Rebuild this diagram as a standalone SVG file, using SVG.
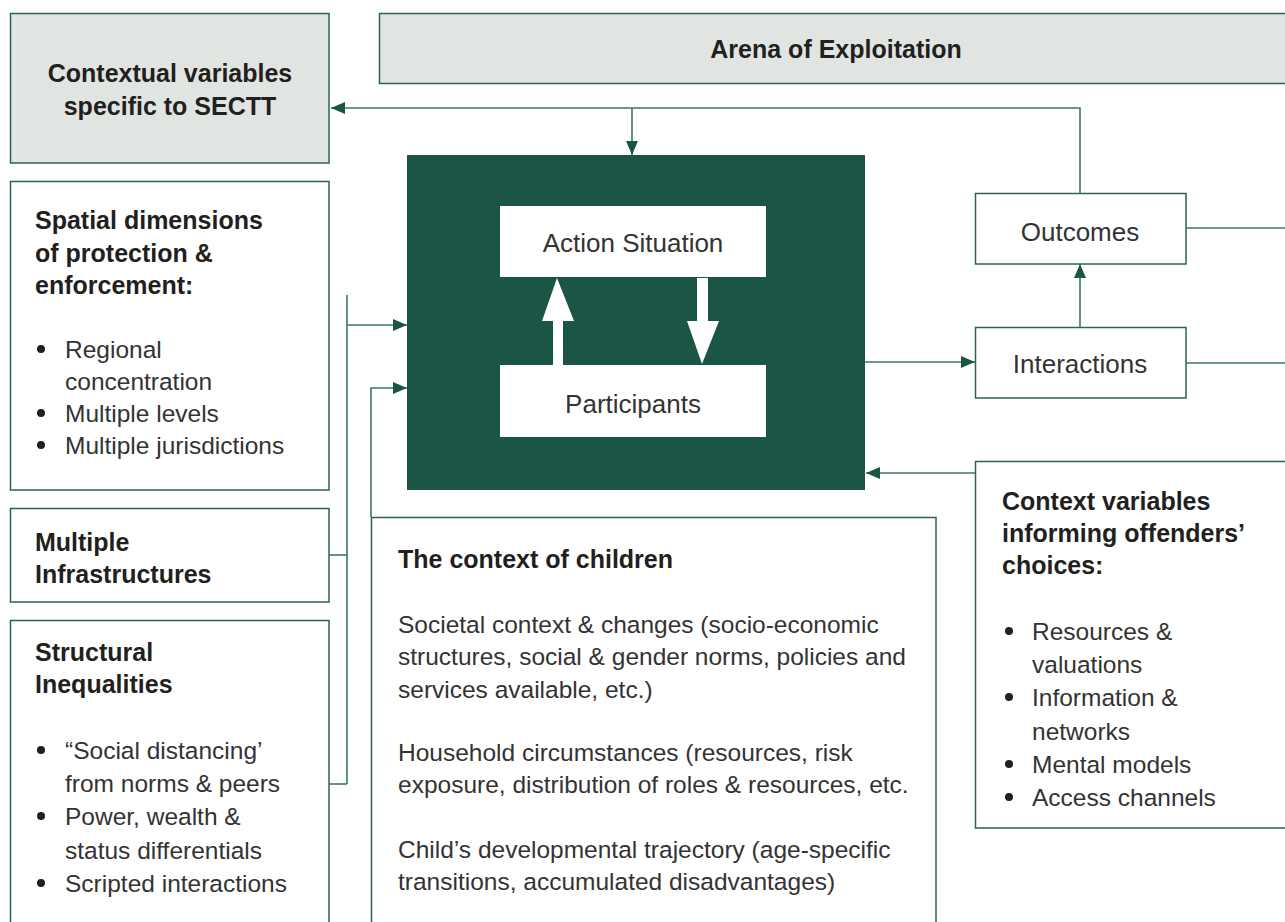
<svg xmlns="http://www.w3.org/2000/svg" width="1285" height="922" viewBox="0 0 1285 922">
<defs>
<marker id="ah" markerWidth="14" markerHeight="12" refX="14" refY="6" orient="auto" markerUnits="userSpaceOnUse">
<path d="M0,0 L14,6 L0,12 Z" fill="#1a5545"/>
</marker>
<style>
.box{fill:#ffffff;stroke:#2a6452;stroke-width:1.5}
.grey{fill:#e1e5e2;stroke:#2a6452;stroke-width:1.5}
.conn{fill:none;stroke:#3d7766;stroke-width:1.6}
.h{font-family:"Liberation Sans",Arial,sans-serif;font-weight:bold;font-size:25px;fill:#231f20}
.t{font-family:"Liberation Sans",Arial,sans-serif;font-size:24.5px;fill:#333333}
.l{font-family:"Liberation Sans",Arial,sans-serif;font-size:26px;fill:#333333;text-anchor:middle}
.c{text-anchor:middle}
</style>
</defs>
<rect width="1285" height="922" fill="#ffffff"/>

<g id="contextual-variables">
<rect class="grey" x="10.5" y="13.5" width="318.5" height="149.5"/>
<text class="h c" x="170" y="82">Contextual variables</text>
<text class="h c" x="170" y="115">specific to SECTT</text>
</g>

<g id="arena">
<rect class="grey" x="379.5" y="13.5" width="910" height="70"/>
<text class="h c" x="836" y="58">Arena of Exploitation</text>
</g>

<g id="spatial">
<rect class="box" x="10.5" y="181.5" width="318.5" height="308.5"/>
<text class="h" x="35" y="229">Spatial dimensions</text>
<text class="h" x="35" y="262">of protection &amp;</text>
<text class="h" x="35" y="294">enforcement:</text>
<circle cx="41" cy="349" r="4" fill="#231f20"/>
<text class="t" x="65" y="358">Regional</text>
<text class="t" x="65" y="390">concentration</text>
<circle cx="41" cy="413" r="4" fill="#231f20"/>
<text class="t" x="65" y="422">Multiple levels</text>
<circle cx="41" cy="445" r="4" fill="#231f20"/>
<text class="t" x="65" y="454">Multiple jurisdictions</text>
</g>

<g id="infrastructures">
<rect class="box" x="10.5" y="508.5" width="318.5" height="93.5"/>
<text class="h" x="35" y="551">Multiple</text>
<text class="h" x="35" y="583">Infrastructures</text>
</g>

<g id="structural">
<rect class="box" x="10.5" y="620.5" width="318.5" height="320"/>
<text class="h" x="35" y="661">Structural</text>
<text class="h" x="35" y="693">Inequalities</text>
<circle cx="41" cy="750" r="4" fill="#231f20"/>
<text class="t" x="65" y="759">“Social distancing’</text>
<text class="t" x="65" y="792">from norms &amp; peers</text>
<circle cx="41" cy="816" r="4" fill="#231f20"/>
<text class="t" x="65" y="825">Power, wealth &amp;</text>
<text class="t" x="65" y="859">status differentials</text>
<circle cx="41" cy="883" r="4" fill="#231f20"/>
<text class="t" x="65" y="892">Scripted interactions</text>
</g>

<g id="action-arena">
<rect x="407" y="155" width="458" height="335" fill="#1a5545"/>
</g>

<g id="action-situation">
<rect x="500" y="206" width="266" height="71" fill="#ffffff"/>
<text class="l" x="633" y="252">Action Situation</text>
</g>

<g id="participants">
<rect x="500" y="365" width="266" height="72" fill="#ffffff"/>
<text class="l" x="633" y="413">Participants</text>
</g>

<g id="children">
<rect class="box" x="371.5" y="517.5" width="564.5" height="420"/>
<text class="h" x="398" y="568">The context of children</text>
<text class="t" x="398" y="633">Societal context &amp; changes (socio-economic</text>
<text class="t" x="398" y="665">structures, social &amp; gender norms, policies and</text>
<text class="t" x="398" y="698">services available, etc.)</text>
<text class="t" x="398" y="761">Household circumstances (resources, risk</text>
<text class="t" x="398" y="793">exposure, distribution of roles &amp; resources, etc.</text>
<text class="t" x="398" y="858">Child’s developmental trajectory (age-specific</text>
<text class="t" x="398" y="890">transitions, accumulated disadvantages)</text>
</g>

<g id="outcomes">
<rect class="box" x="975.5" y="193.5" width="210.5" height="70.5"/>
<text class="l" x="1080" y="241">Outcomes</text>
</g>

<g id="interactions">
<rect class="box" x="975.5" y="327.5" width="210.5" height="70.5"/>
<text class="l" x="1080" y="373">Interactions</text>
</g>

<g id="offenders">
<rect class="box" x="975.5" y="461.5" width="320" height="366.5"/>
<text class="h" x="1002" y="510">Context variables</text>
<text class="h" x="1002" y="542">informing offenders’</text>
<text class="h" x="1002" y="574">choices:</text>
<circle cx="1009" cy="631" r="4" fill="#231f20"/>
<text class="t" x="1032" y="640">Resources &amp;</text>
<text class="t" x="1032" y="673">valuations</text>
<circle cx="1009" cy="697" r="4" fill="#231f20"/>
<text class="t" x="1032" y="706">Information &amp;</text>
<text class="t" x="1032" y="740">networks</text>
<circle cx="1009" cy="764" r="4" fill="#231f20"/>
<text class="t" x="1032" y="773">Mental models</text>
<circle cx="1009" cy="797" r="4" fill="#231f20"/>
<text class="t" x="1032" y="806">Access channels</text>
</g>

<g id="connectors">
<path class="conn" d="M1080,193 V108 H331" marker-end="url(#ah)"/>
<path class="conn" d="M632,108 V155" marker-end="url(#ah)"/>
<path class="conn" d="M1080,327 V264" marker-end="url(#ah)"/>
<path class="conn" d="M865,362 H975" marker-end="url(#ah)"/>
<path class="conn" d="M975,473 H866" marker-end="url(#ah)"/>
<path class="conn" d="M1186,228 H1285"/>
<path class="conn" d="M1186,363 H1285"/>
<path class="conn" d="M347,295 V784"/>
<path class="conn" d="M347,325 H407" marker-end="url(#ah)"/>
<path class="conn" d="M329,555 H347"/>
<path class="conn" d="M329,784 H347"/>
<path class="conn" d="M371,517 V388 H407" marker-end="url(#ah)"/>
<path d="M542,321 L557,278 L574,321 H563 V365 H553 V321 Z" fill="#ffffff"/>
<path d="M697,278 H708 V321 H719 L702,364 L687,321 H697 Z" fill="#ffffff"/>
</g>
</svg>
